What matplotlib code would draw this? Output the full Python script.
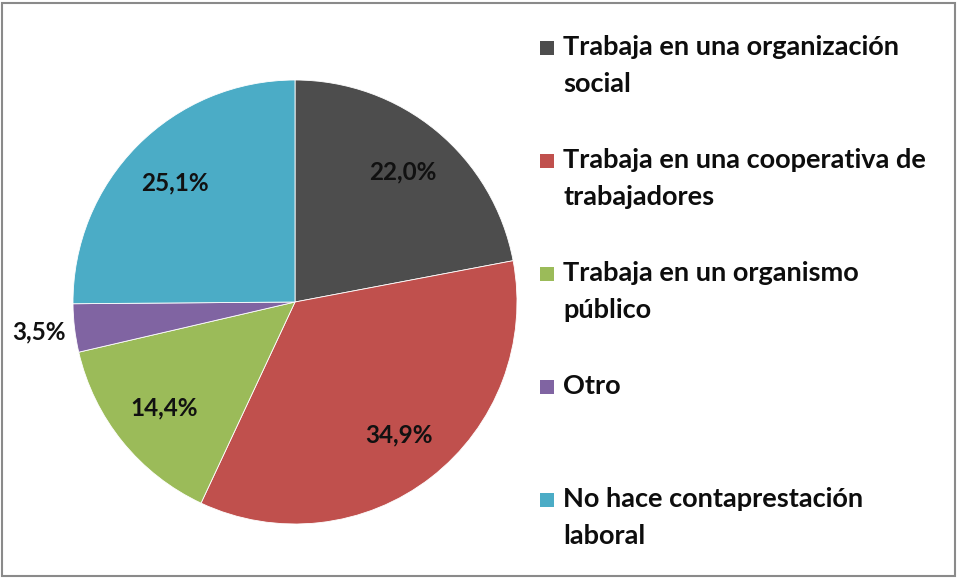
import matplotlib
matplotlib.use("Agg")
import matplotlib.pyplot as plt
from matplotlib.patches import Rectangle
import numpy as np

categories = ["Trabaja en una organización\nsocial",
              "Trabaja en una cooperativa de\ntrabajadores",
              "Trabaja en un organismo\npúblico",
              "Otro",
              "No hace contaprestación\nlaboral"]
values = [22.0, 34.9, 14.4, 3.5, 25.1]
value_labels = ["22,0%", "34,9%", "14,4%", "3,5%", "25,1%"]
colors = ["#4d4d4d", "#c0504d", "#9bbb59", "#8064a2", "#4bacc6"]

W, H = 957, 578
fig = plt.figure(figsize=(W/100, H/100), dpi=100)
fig.patch.set_facecolor("white")

cx, cy, r = 295, 302, 222
ax = fig.add_axes([(cx - r)/W, (H - cy - r)/H, 2*r/W, 2*r/H])
wedges, _ = ax.pie(values, colors=colors, startangle=90, counterclock=False,
                   radius=1.0, wedgeprops=dict(linewidth=0.6, edgecolor="white"))
ax.set_xlim(-1, 1); ax.set_ylim(-1, 1)
ax.set_aspect("equal")
ax.axis("off")

font = "Lato"
for w, lab, v in zip(wedges, value_labels, values):
    ang = np.deg2rad((w.theta1 + w.theta2) / 2)
    d = 0.76 if v > 5 else 1.16
    ax.text(d*np.cos(ang), d*np.sin(ang), lab, ha="center", va="center",
            fontsize=17.5, fontweight="bold", family=font, color="#111111")

# legend
for i, (cat, col) in enumerate(zip(categories, colors)):
    y0 = 48 + 113*i
    fig.patches.append(Rectangle((540/W, 1 - (y0 + 7)/H), 14/W, 14/H,
                                 transform=fig.transFigure, facecolor=col,
                                 edgecolor="none"))
    fig.text(563/W, 1 - (y0 - 13)/H, cat, ha="left", va="top",
             fontsize=19.5, fontweight="bold", family=font, color="#0d0d0d",
             linespacing=1.64)

fig.patches.append(Rectangle((2/W, 2/H), (W-4)/W, (H-5)/H, transform=fig.transFigure,
                             facecolor="none", edgecolor="#8a8a8a", linewidth=1.5))
fig.savefig("out.png", dpi=100)
